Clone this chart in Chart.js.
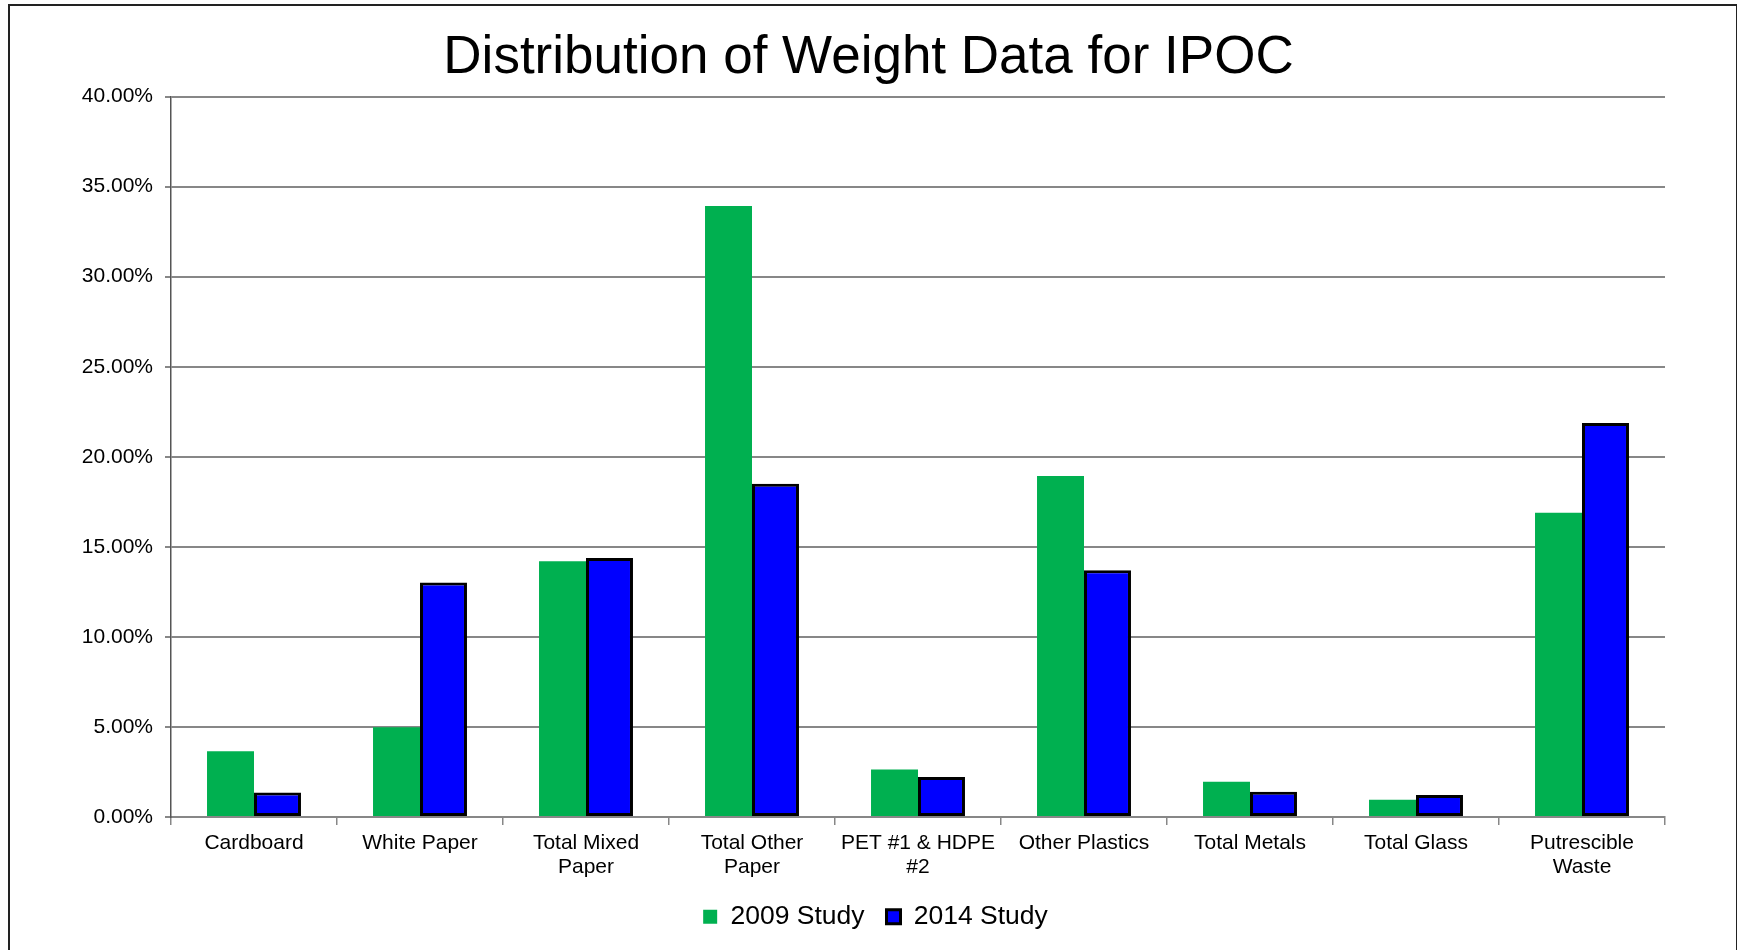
<!DOCTYPE html>
<html>
<head>
<meta charset="utf-8">
<title>Distribution of Weight Data for IPOC</title>
<script src="https://cdn.jsdelivr.net/npm/chart.js@4.4.1/dist/chart.umd.min.js"></script>
<style>
  html, body { margin: 0; padding: 0; background: #fff; overflow: hidden; }
  #wrap { position: absolute; left: 0; top: 0; width: 1737px; height: 950px; }
  #frame {
    position: absolute; left: 8px; top: 4px; width: 1726px; height: 980px;
    border: 2px solid #222; pointer-events: none;
  }
</style>
</head>
<body>
<div id="wrap"><canvas id="chart"></canvas></div>
<div id="frame"></div>
<script>
// values (percent of weight)
const categories = [
  "Cardboard", ["White Paper"], ["Total Mixed", "Paper"], ["Total Other", "Paper"],
  ["PET #1 & HDPE", "#2"], "Other Plastics", "Total Metals", "Total Glass",
  ["Putrescible", "Waste"]
];
const study2009 = [3.65, 4.98, 14.2, 33.93, 2.64, 18.93, 1.96, 0.96, 16.9];
const study2014 = [1.36, 13.02, 14.38, 18.5, 2.22, 13.7, 1.4, 1.22, 21.87];
const yMax = 40;
const yStep = 5;

const FONT = "'Liberation Sans', Arial, sans-serif";
const GRID = "#878787";

// nudge the legend a little to the right, like the original
const legendShift = {
  id: "legendShift",
  afterLayout(chart) {
    if (!chart.legend) return;
    chart.legend.left += 7;
    chart.legend.right += 7;
  }
};

const ctx = document.getElementById("chart");

new Chart(ctx, {
  type: "bar",
  data: {
    labels: categories,
    datasets: [
      {
        label: "2009 Study",
        data: study2009,
        backgroundColor: "#00B050",
        borderWidth: 0
      },
      {
        label: "2014 Study",
        data: study2014,
        backgroundColor: "#0000FF",
        borderColor: "#000",
        borderWidth: 3,
        borderSkipped: false
      }
    ]
  },
  options: {
    responsive: true,
    maintainAspectRatio: false,
    animation: false,
    layout: { padding: { top: 0, left: 0, right: 0, bottom: 10 } },
    datasets: {
      bar: { categoryPercentage: 0.566, barPercentage: 1 }
    },
    plugins: {
      title: {
        display: true,
        text: "Distribution of Weight Data for IPOC",
        color: "#000",
        font: { family: FONT, size: 53, weight: "normal", lineHeight: 1.2 },
        padding: { top: 27, bottom: 6 }
      },
      legend: {
        position: "bottom",
        labels: {
          color: "#000",
          font: { family: FONT, size: 26.5 },
          boxWidth: 14,
          boxHeight: 14,
          padding: 22
        }
      },
      tooltip: { enabled: false }
    },
    scales: {
      x: {
        grid: {
          drawOnChartArea: false,
          drawTicks: true,
          tickLength: 8,
          color: GRID,
          lineWidth: 1.5
        },
        border: { color: GRID, width: 2 },
        ticks: {
          color: "#000",
          font: { family: FONT, size: 21, lineHeight: 1.16 },
          padding: 6,
          maxRotation: 0,
          autoSkip: false
        },
        afterFit(scale) { scale.height = 64.5; }
      },
      y: {
        min: 0,
        max: yMax,
        grid: {
          color: GRID,
          lineWidth: 2,
          tickLength: 6
        },
        border: { color: "#555", width: 1.5 },
        ticks: {
          stepSize: yStep,
          color: "#000",
          font: { family: FONT, size: 21 },
          padding: 12,
          callback: (v) => v.toFixed(2) + "%"
        },
        afterFit(scale) { scale.width = 171; }
      },
      // empty right axis that only reserves the space to the right of the plot
      yRight: {
        position: "right",
        display: true,
        grid: { display: false, drawTicks: false },
        border: { display: false },
        ticks: { display: false },
        afterFit(scale) { scale.width = 72; }
      }
    }
  },
  plugins: [legendShift]
});
</script>
</body>
</html>
